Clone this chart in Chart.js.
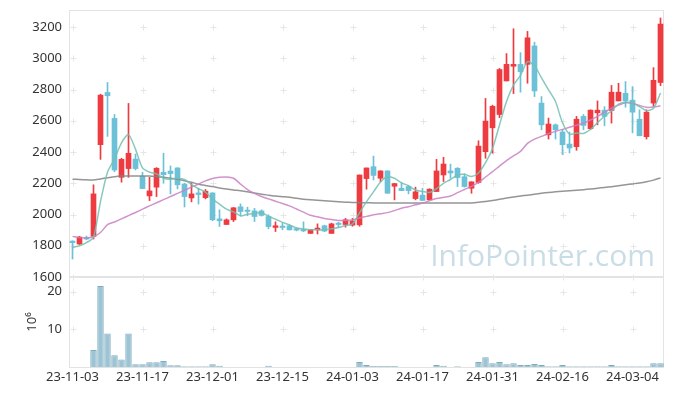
<!DOCTYPE html>
<html lang="ko">
<head>
  <meta charset="UTF-8" />
  <title>주가 차트</title>
  <script src="https://cdn.jsdelivr.net/npm/chart.js"></script>
  <style>
    body { margin: 0; background: #fff; }
    #chart-container { width: 673px; height: 396px; }
  </style>
</head>
<body>
  <div id="chart-container">
    <canvas id="stockChart"></canvas>
  </div>

  <script>
    // 거래일 (YY-MM-DD)
    const dates = [
      '23-11-03',
      '23-11-06','23-11-07','23-11-08','23-11-09','23-11-10',
      '23-11-13','23-11-14','23-11-15','23-11-16','23-11-17',
      '23-11-20','23-11-21','23-11-22','23-11-23','23-11-24',
      '23-11-27','23-11-28','23-11-29','23-11-30','23-12-01',
      '23-12-04','23-12-05','23-12-06','23-12-07','23-12-08',
      '23-12-11','23-12-12','23-12-13','23-12-14','23-12-15',
      '23-12-18','23-12-19','23-12-20','23-12-21','23-12-22',
      '23-12-26','23-12-27','23-12-28','24-01-02','24-01-03',
      '24-01-04','24-01-05','24-01-08','24-01-09','24-01-10',
      '24-01-11','24-01-12','24-01-15','24-01-16','24-01-17',
      '24-01-18','24-01-19','24-01-22','24-01-23','24-01-24',
      '24-01-25','24-01-26','24-01-29','24-01-30','24-01-31',
      '24-02-01','24-02-02','24-02-05','24-02-06','24-02-07',
      '24-02-08','24-02-13','24-02-14','24-02-15','24-02-16',
      '24-02-19','24-02-20','24-02-21','24-02-22','24-02-23',
      '24-02-26','24-02-27','24-02-28','24-02-29','24-03-04',
      '24-03-05','24-03-06','24-03-07','24-03-08'
    ];
    const xTicks = ['23-11-03','23-11-17','23-12-01','23-12-15','24-01-03','24-01-17','24-01-31','24-02-16','24-03-04'];
    const priceTicks = [1600, 1800, 2000, 2200, 2400, 2600, 2800, 3000, 3200];
    const volTicks = [10, 20];

    // 시가 / 고가 / 저가 / 종가
    const opens = [1830,1811,1853,1860,2447,2781,2615,2238,2294,2355,2245,2119,2175,2270,2278,2298,2195,2106,2138,2108,
      2138,1972,1936,1966,2049,2028,2023,2023,1987,1917,1926,1928,1910,1905,1879,1902,1928,1879,1945,1936,
      1932,1934,2230,2306,2232,2279,2181,2168,2179,2102,2124,2094,2147,2253,2279,2296,2242,2168,2205,2402,
      2555,2640,2855,2949,2961,2961,3079,2713,2510,2574,2528,2451,2434,2628,2549,2651,2668,2666,2727,2776,
      2732,2610,2498,2713,2845];
    const highs = [1832,1860,1862,2190,2770,2845,2640,2360,2711,2387,2270,2238,2300,2392,2311,2300,2200,2200,2168,2160,
      2140,2030,1972,2045,2068,2047,2039,2030,1998,1953,1945,1935,1915,1953,1905,1940,1932,1945,1950,1975,
      1975,2253,2298,2374,2280,2280,2200,2204,2185,2175,2168,2165,2353,2366,2323,2300,2260,2210,2472,2743,
      2700,2935,3030,3189,3036,3172,3103,2755,2617,2580,2545,2528,2628,2640,2670,2727,2690,2826,2840,2851,
      2819,2670,2670,2940,3258];
    const lows = [1715,1808,1838,1843,2353,2500,2274,2207,2238,2285,2166,2089,2115,2200,2132,2164,2048,2081,2067,2100,
      1960,1923,1936,1955,1992,1992,1955,1990,1909,1891,1902,1900,1895,1890,1879,1875,1890,1879,1919,1919,
      1925,1925,2162,2221,2210,2136,2094,2153,2132,2094,2089,2094,2147,2211,2232,2179,2175,2136,2200,2360,
      2392,2620,2855,2774,2783,2840,2755,2542,2483,2483,2383,2394,2411,2542,2545,2574,2568,2585,2727,2687,
      2523,2504,2483,2692,2825];
    const closes = [1820,1856,1843,2132,2764,2760,2285,2353,2392,2294,2166,2151,2296,2255,2262,2190,2115,2132,2128,2149,
      1966,1960,1966,2043,2019,2020,1987,1994,1923,1928,1917,1902,1900,1895,1902,1913,1894,1940,1936,1966,
      1958,2253,2298,2250,2279,2136,2198,2153,2153,2145,2090,2162,2279,2323,2266,2236,2179,2209,2438,2598,
      2693,2928,2961,2961,2914,3131,2791,2574,2579,2542,2447,2426,2610,2570,2668,2668,2628,2783,2783,2727,
      2655,2504,2655,2859,3219];

    // 거래량 (백만 주)
    const volumes = [0,0,0,4.5,21.5,8.9,3.1,2.0,8.9,0.7,0.7,1.25,1.25,1.6,0.45,0.45,0.2,0.2,0.2,0.2,
      0.7,0.3,0,0,0,0,0,0,0.3,0,0,0,0,0,0,0,0,0,0,0,
      0,1.3,0.5,0.25,0.25,0.25,0.25,0,0,0,0,0,0.5,0.3,0,0.2,0,0,1.3,2.6,
      1.0,1.3,0.7,1.0,0.5,0.5,0.8,0.5,0.2,0.2,0.5,0.2,0.2,0.2,0.2,0.2,0.2,0.5,0.2,0.2,
      0.2,0.2,0.2,1.0,1.0];

    // 이동평균선
    const ma5 = [1790,1800,1820,1855,2083,2271,2357,2459,2511,2417,2298,2271,2260,2232,2226,2231,2224,2191,2165,2143,
      2098,2067,2034,2017,1991,2002,2007,2013,1989,1970,1950,1933,1914,1908,1903,1902,1901,1909,1917,1930,
      1939,2011,2082,2145,2208,2243,2232,2203,2184,2157,2148,2141,2166,2200,2224,2253,2257,2243,2266,2332,
      2423,2573,2724,2828,2891,2979,2952,2874,2798,2723,2587,2514,2521,2519,2544,2588,2629,2663,2706,2718,
      2715,2690,2665,2680,2778];
    const ma20 = [1860,1852,1850,1858,1885,1935,1952,1972,1993,2013,2034,2055,2075,2095,2115,2135,2155,2175,2195,2215,
      2230,2238,2240,2232,2195,2160,2135,2115,2100,2085,2070,2055,2035,2015,1995,1985,1975,1968,1962,1962,
      1965,1978,1988,1998,2005,2012,2025,2040,2050,2062,2073,2088,2102,2110,2118,2140,2160,2180,2205,2240,
      2274,2310,2345,2375,2404,2455,2482,2500,2518,2532,2545,2558,2572,2585,2605,2628,2655,2681,2700,2715,
      2712,2698,2686,2688,2696];
    const ma120 = [2226,2224,2222,2221,2228,2235,2242,2246,2247,2247,2247,2247,2243,2238,2232,2225,2216,2206,2194,2186,
      2179,2170,2163,2157,2152,2145,2138,2130,2124,2118,2114,2110,2104,2098,2094,2091,2088,2085,2082,2079,
      2077,2076,2075,2074,2073,2073,2073,2073,2073,2073,2073,2073,2073,2073,2073,2073,2073,2074,2078,2083,
      2090,2097,2105,2112,2118,2124,2130,2136,2141,2145,2149,2152,2155,2159,2163,2168,2173,2178,2184,2190,
      2196,2202,2210,2220,2234];

    const RED = '#ee3b40';
    const BLUE = '#6cc1d8';
    const candleColor = (c) => closes[c.dataIndex] >= opens[c.dataIndex] ? RED : BLUE;

    // 배경 장식: 테두리, 격자 십자, 워터마크
    const decor = {
      id: 'decor',
      beforeDatasetsDraw(chart) {
        const { ctx, chartArea: a, scales } = chart;
        ctx.save();
        ctx.strokeStyle = '#e3e3e3';
        ctx.lineWidth = 1;
        ctx.strokeRect(a.left + 0.5, a.top + 0.5, a.right - a.left - 1, a.bottom - a.top);
        ctx.beginPath();
        ctx.lineWidth = 2;
        ctx.moveTo(a.left, scales.y.bottom);
        ctx.lineTo(a.right, scales.y.bottom);
        ctx.stroke();

        ctx.strokeStyle = '#e6e6e6';
        ctx.lineWidth = 1;
        const ys = priceTicks.map(v => scales.y.getPixelForValue(v))
          .concat(volTicks.map(v => scales.yv.getPixelForValue(v)));
        xTicks.forEach(lbl => {
          const x = Math.round(scales.x.getPixelForValue(dates.indexOf(lbl))) + 0.5;
          ys.forEach(yy => {
            const y = Math.round(yy) + 0.5;
            ctx.beginPath();
            ctx.moveTo(x - 3, y); ctx.lineTo(x + 3, y);
            ctx.moveTo(x, y - 3); ctx.lineTo(x, y + 3);
            ctx.stroke();
          });
        });

        ctx.font = '30px "Open Sans", sans-serif';
        ctx.fillStyle = 'rgba(165, 198, 215, 0.6)';
        ctx.textAlign = 'right';
        ctx.textBaseline = 'alphabetic';
        ctx.fillText('InfoPointer.com', 655, 266);
        ctx.restore();
      }
    };

    const noPad = (axis) => {
      axis.width = 69;
      axis.paddingTop = 0;
      axis.paddingBottom = 0;
    };

    Chart.defaults.font.family = '"Noto Sans", sans-serif';
    Chart.defaults.font.size = 13;
    Chart.defaults.color = '#333';

    const ctx = document.getElementById('stockChart').getContext('2d');

    new Chart(ctx, {
      type: 'bar',
      data: {
        labels: dates,
        datasets: [
          { type: 'line', data: ma5, yAxisID: 'y', borderColor: 'rgba(115,192,178,0.85)', borderWidth: 1.5, pointRadius: 0, tension: 0.25 },
          { type: 'line', data: ma20, yAxisID: 'y', borderColor: 'rgba(200,128,196,0.85)', borderWidth: 1.5, pointRadius: 0, tension: 0.25 },
          { type: 'line', data: ma120, yAxisID: 'y', borderColor: 'rgba(130,130,130,0.85)', borderWidth: 1.5, pointRadius: 0, tension: 0.25 },
          {
            data: opens.map((o, i) => [o, closes[i]]), yAxisID: 'y',
            backgroundColor: candleColor, barThickness: 5, grouped: false, minBarLength: 1
          },
          {
            data: lows.map((l, i) => [l, highs[i]]), yAxisID: 'y',
            backgroundColor: candleColor, barThickness: 1, grouped: false
          },
          {
            data: volumes, yAxisID: 'yv',
            backgroundColor: '#9dc4d4', borderColor: '#7eabbf', borderWidth: 1,
            barPercentage: 1, categoryPercentage: 0.92, grouped: false
          }
        ]
      },
      plugins: [decor],
      options: {
        responsive: true,
        maintainAspectRatio: false,
        animation: false,
        layout: { padding: { top: 10, right: 9, left: 0, bottom: 0 } },
        plugins: { legend: { display: false }, tooltip: { enabled: false } },
        scales: {
          x: {
            offset: true,
            grid: { display: false, drawTicks: false },
            border: { display: false },
            ticks: {
              autoSkip: false, maxRotation: 0, padding: 2,
              callback: (v, i) => xTicks.includes(dates[i]) ? dates[i] : ''
            },
            afterFit: (axis) => { axis.height = 29; axis.paddingLeft = 0; axis.paddingRight = 0; }
          },
          yv: {
            position: 'left', stack: 'main', stackWeight: 90,
            min: 0, max: 23.9,
            grid: { display: false, drawTicks: false },
            border: { display: false },
            ticks: { padding: 7, autoSkip: false, callback: (v) => String(v) },
            afterBuildTicks: (axis) => { axis.ticks = volTicks.map(v => ({ value: v })); },
            title: { display: true, text: '10⁶', padding: { top: 24, bottom: 0 } },
            afterFit: noPad
          },
          y: {
            position: 'left', stack: 'main', stackWeight: 267,
            min: 1600, max: 3309,
            grid: { display: false, drawTicks: false },
            border: { display: false },
            ticks: { padding: 7, autoSkip: false, callback: (v) => String(v) },
            afterBuildTicks: (axis) => { axis.ticks = priceTicks.map(v => ({ value: v })); },
            afterFit: noPad
          }
        }
      }
    });
  </script>
</body>
</html>
